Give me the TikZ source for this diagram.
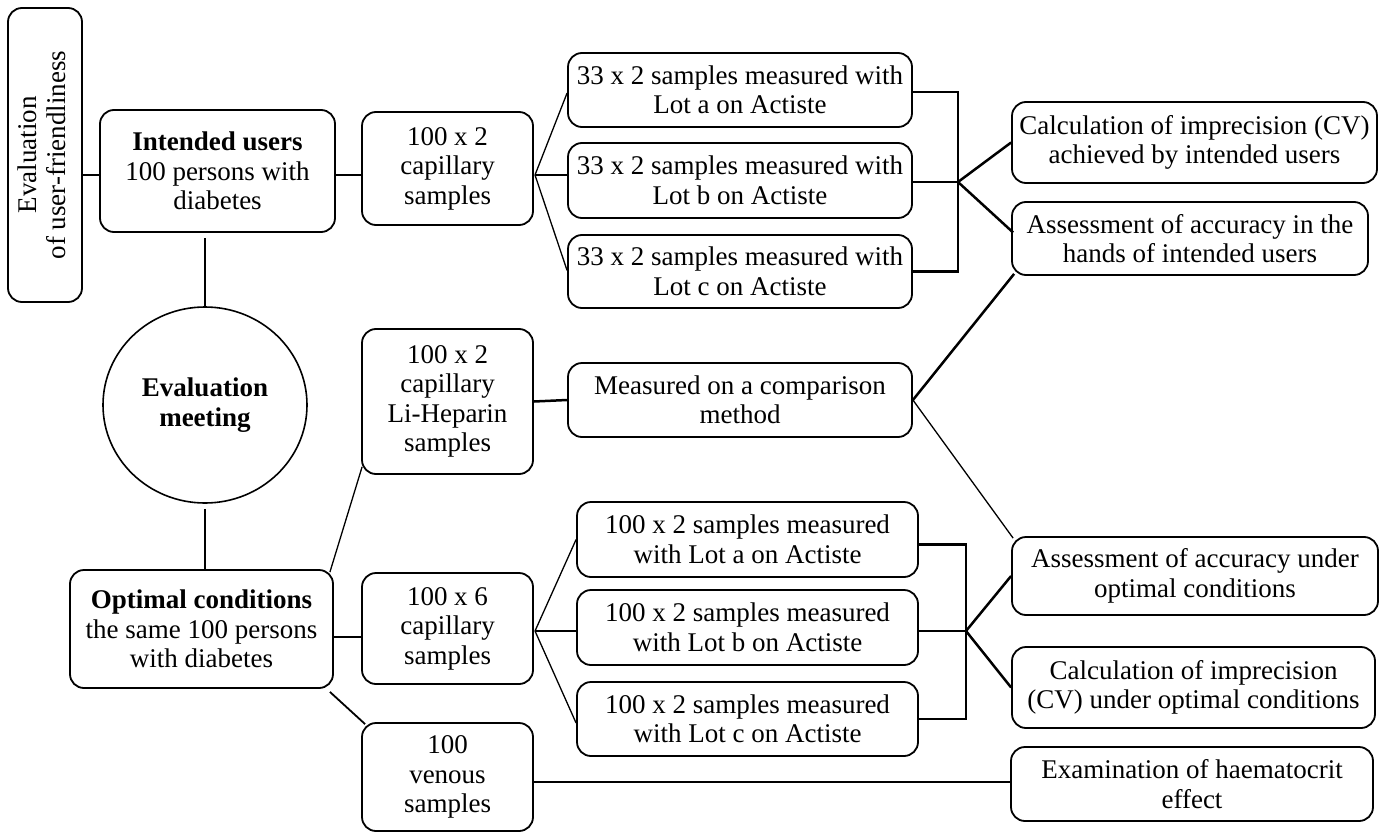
\documentclass[tikz,border=0pt]{standalone}
\usepackage{fontspec}
\setmainfont{Liberation Serif}
\usetikzlibrary{shapes.geometric,calc}
\begin{document}
\begin{tikzpicture}[x=1pt,y=-1pt,
  box/.style={draw,rounded corners=14pt,line width=1.8pt,align=center,inner sep=0pt,font=\fontsize{27}{29.5}\selectfont},
  thinline/.style={line width=1.3pt},
  midline/.style={line width=1.8pt},
  thickline/.style={line width=2.5pt}]
\useasboundingbox (0,0) rectangle (1381,832);

% left column
\node[box,minimum width=74pt,minimum height=294pt] (eval) at (45,155)
  {\rotatebox{90}{\begin{tabular}{@{}c@{}}Evaluation\\of user-friendliness\end{tabular}}};
\node[box,minimum width=235pt,minimum height=122pt] (intended) at (217.5,171)
  {\textbf{Intended users}\\100 persons with\\diabetes};
\node[draw,ellipse,line width=1.6pt,minimum width=204pt,minimum height=196pt,inner sep=0pt,align=center,
  font=\fontsize{27}{29.5}\selectfont\bfseries] (meet) at (205,405) {Evaluation\\meeting};
\node[box,minimum width=263pt,minimum height=118pt] (optimal) at (201.5,629)
  {\textbf{Optimal conditions}\\the same 100 persons\\with diabetes};

% second column
\node[box,minimum width=171pt,minimum height=113pt] (capA) at (447.5,168.5)
  {100 x 2\\capillary\\samples};
\node[box,minimum width=171pt,minimum height=145pt] (liH) at (447.5,401.5)
  {100 x 2\\capillary\\Li-Heparin\\samples};
\node[box,minimum width=171pt,minimum height=111pt] (capB) at (447.5,628.5)
  {100 x 6\\capillary\\samples};
\node[box,minimum width=171pt,minimum height=108pt] (venous) at (447.5,777)
  {100\\venous\\samples};

% third column
\node[box,minimum width=344pt,minimum height=74pt] (la) at (740,90)
  {33 x 2 samples measured with\\Lot a on Actiste};
\node[box,minimum width=344pt,minimum height=75pt] (lb) at (740,180.5)
  {33 x 2 samples measured with\\Lot b on Actiste};
\node[box,minimum width=344pt,minimum height=73pt] (lc) at (740,271.5)
  {33 x 2 samples measured with\\Lot c on Actiste};
\node[box,minimum width=344pt,minimum height=74pt] (meas) at (740,400)
  {Measured on a comparison\\method};
\node[box,minimum width=341pt,minimum height=75pt] (ma) at (747.5,539.5)
  {100 x 2 samples measured\\with Lot a on Actiste};
\node[box,minimum width=341pt,minimum height=75pt] (mb) at (747.5,627.5)
  {100 x 2 samples measured\\with Lot b on Actiste};
\node[box,minimum width=341pt,minimum height=74pt] (mc) at (747.5,719)
  {100 x 2 samples measured\\with Lot c on Actiste};

% right column
\node[box,minimum width=365pt,minimum height=81pt] (calcA) at (1194.5,142.5)
  {Calculation of imprecision (CV)\\achieved by intended users};
\node[box,minimum width=356pt,minimum height=73pt] (assA) at (1190,238.5)
  {Assessment of accuracy in the\\hands of intended users};
\node[box,minimum width=366pt,minimum height=78pt] (assB) at (1195,576)
  {Assessment of accuracy under\\optimal conditions};
\node[box,minimum width=363pt,minimum height=81pt] (calcB) at (1193.5,687.5)
  {Calculation of imprecision\\(CV) under optimal conditions};
\node[box,minimum width=362pt,minimum height=74pt] (exam) at (1192,784)
  {Examination of haematocrit\\effect};

% junctions
\coordinate (fA) at (535,175);
\coordinate (fB) at (535,631);
\coordinate (jA) at (958,182);
\coordinate (jB) at (966,631);

% connectors
\draw[midline] (eval.east |- 0,175) -- (intended.west |- 0,175);
\draw[midline] (intended.east |- fA) -- (capA.west |- fA);
\draw[midline, shorten >=5pt] (meet.north) -- (meet.north |- intended.south);
\draw[midline, shorten <=5pt] (meet.south) -- (meet.south |- optimal.north);

\draw[thinline] (fA) -- ($(la.west)+(0,3)$);
\draw[thinline] (fA) -- (lb.west |- fA);
\draw[thinline] (fA) -- ($(lc.west)+(0,-1)$);

\draw[thickline] ($(la.east)+(0,2)$) -- ($(la.east -| jA)+(0,2)$) -- (lc.east -| jA) -- (lc.east);
\draw[thickline] (lb.east |- jA) -- (jA);
\draw[thickline] (jA) -- (calcA.west);
\draw[thickline] (jA) -- ($(assA.west)+(2,-6)$);

\draw[thinline] ($(optimal.north east)+(-4,3)$) -- ($(liH.south west)+(1,-8)$);
\draw[thickline] (liH.east) -- (meas.west);
\draw[thickline] (meas.east) -- ($(assA.south west)+(3,-2)$);
\draw[thinline] (meas.east) -- ($(assB.north west)+(2,2)$);

\draw[midline] (optimal.east |- 0,637) -- (capB.west |- 0,637);
\draw[thinline] (fB) -- (ma.west);
\draw[thinline] (fB) -- (mb.west |- fB);
\draw[thinline] (fB) -- ($(mc.west)+(0,4)$);

\draw[thickline] ($(ma.east)+(0,5)$) -- ($(ma.east -| jB)+(0,5)$) -- (mc.east -| jB) -- (mc.east);
\draw[thickline] (mb.east |- jB) -- (jB);
\draw[thickline] (jB) -- (assB.west);
\draw[thickline] (jB) -- (calcB.west);

\draw[midline] ($(optimal.south east)+(-4,3)$) -- ($(venous.north west)+(4,2)$);
\draw[midline] (venous.east |- 0,782) -- (exam.west |- 0,782);
\end{tikzpicture}
\end{document}
